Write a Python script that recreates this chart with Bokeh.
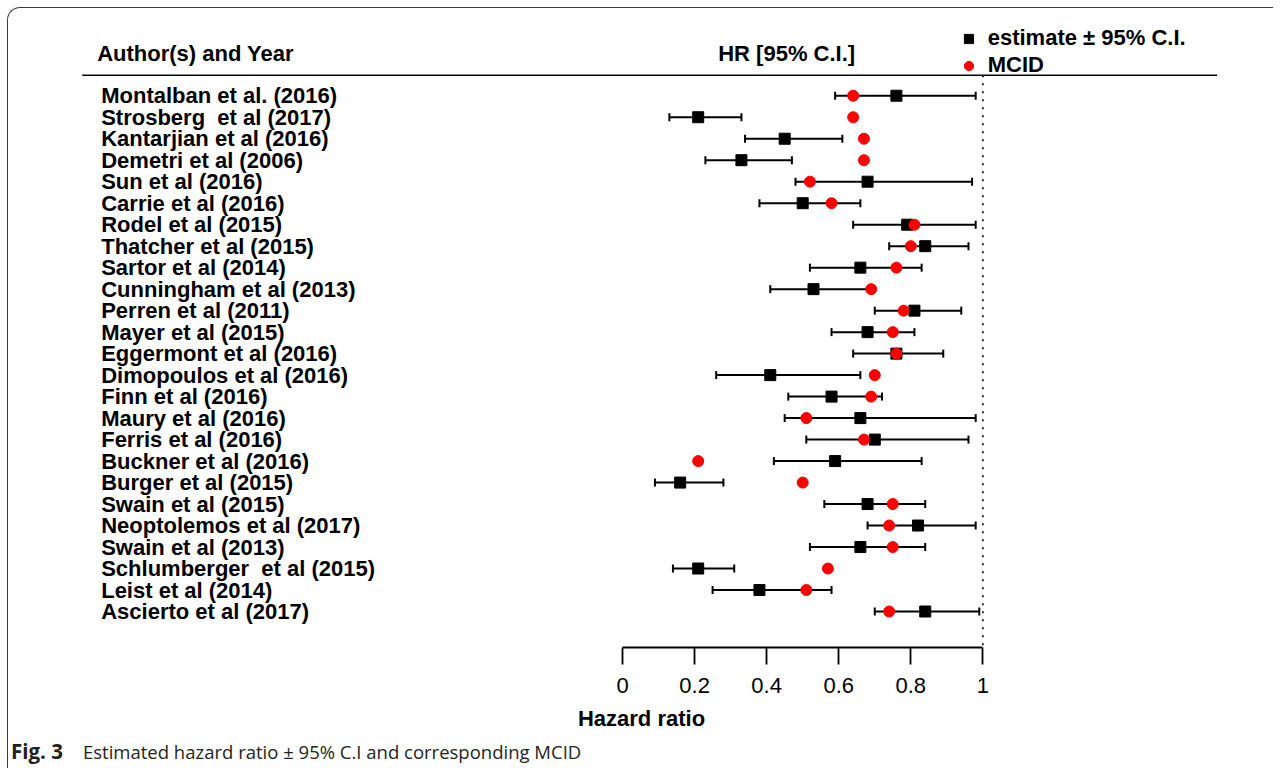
from bokeh.plotting import figure
from bokeh.layouts import column
from bokeh.models import (Range1d, ColumnDataSource, Whisker, TeeHead, FixedTicker,
                          Legend, LegendItem, Div)
from bokeh.core.properties import value
from bokeh.embed import file_html
from bokeh.resources import INLINE

# ---------------- data ----------------
authors = [
    "Montalban et al. (2016)", "Strosberg\u00a0 et al (2017)", "Kantarjian et al (2016)",
    "Demetri et al (2006)", "Sun et al (2016)", "Carrie et al (2016)",
    "Rodel et al (2015)", "Thatcher et al (2015)", "Sartor et al (2014)",
    "Cunningham et al (2013)", "Perren et al (2011)", "Mayer et al (2015)",
    "Eggermont et al (2016)", "Dimopoulos et al (2016)", "Finn et al (2016)",
    "Maury et al (2016)", "Ferris et al (2016)", "Buckner et al (2016)",
    "Burger et al (2015)", "Swain et al (2015)", "Neoptolemos et al (2017)",
    "Swain et al (2013)", "Schlumberger\u00a0 et al (2015)", "Leist et al (2014)",
    "Ascierto et al (2017)",
]
hr = [0.76, 0.21, 0.45, 0.33, 0.68, 0.50, 0.79, 0.84, 0.66, 0.53, 0.81, 0.68, 0.76,
      0.41, 0.58, 0.66, 0.70, 0.59, 0.16, 0.68, 0.82, 0.66, 0.21, 0.38, 0.84]
ci_low = [0.59, 0.13, 0.34, 0.23, 0.48, 0.38, 0.64, 0.74, 0.52, 0.41, 0.70, 0.58, 0.64,
          0.26, 0.46, 0.45, 0.51, 0.42, 0.09, 0.56, 0.68, 0.52, 0.14, 0.25, 0.70]
ci_high = [0.98, 0.33, 0.61, 0.47, 0.97, 0.66, 0.98, 0.96, 0.83, 0.69, 0.94, 0.81, 0.89,
           0.66, 0.72, 0.98, 0.96, 0.83, 0.28, 0.84, 0.98, 0.84, 0.31, 0.58, 0.99]
mcid = [0.64, 0.64, 0.67, 0.67, 0.52, 0.58, 0.81, 0.80, 0.76, 0.69, 0.78, 0.75, 0.76,
        0.70, 0.69, 0.51, 0.67, 0.21, 0.50, 0.75, 0.74, 0.75, 0.57, 0.51, 0.74]
rows = list(range(1, len(authors) + 1))
null_hr = 1.0
tick_values = [0, 0.2, 0.4, 0.6, 0.8, 1]
tick_labels = ["0", "0.2", "0.4", "0.6", "0.8", "1"]

# ---------------- layout helpers (page pixel -> data) ----------------
ORIGIN = 8.3            # page px of canvas origin (margin + border)
X0_PX, X1_PX = 622.3, 982.7
ROW1_PX, ROW_STEP = 95.5, 21.48
W, H = 1266, 727
FRAME_BOTTOM_PX = 647.0
BORDER = "1.3px solid #3c3c3c"


def px_x(px):
    return (px - X0_PX) / (X1_PX - X0_PX)


def px_y(py):
    return 1 + (py - ROW1_PX) / ROW_STEP


frame_h = FRAME_BOTTOM_PX - ORIGIN
FONT = "Liberation Sans"

p = figure(width=W, height=H, output_backend="svg", toolbar_location=None,
           x_range=Range1d(px_x(ORIGIN), px_x(ORIGIN + W)),
           y_range=Range1d(px_y(FRAME_BOTTOM_PX), px_y(ORIGIN)),
           min_border_left=0, min_border_right=0, min_border_top=0,
           min_border_bottom=round(H - frame_h), y_axis_location=None,
           outline_line_color=None, margin=(7, 0, 0, 7))
p.border_fill_alpha = 0
p.background_fill_alpha = 0
p.xgrid.visible = False
p.ygrid.visible = False
p.styles = {"border-top": BORDER, "border-left": BORDER,
            "border-top-left-radius": "13px"}

src = ColumnDataSource(dict(y=rows, hr=hr, lo=ci_low, hi=ci_high, mcid=mcid,
                            author=authors))

# header rule and null line
header_rule_y = px_y(75)
p.segment(x0=[px_x(82)], y0=[header_rule_y], x1=[px_x(1217)], y1=[header_rule_y],
          line_color="black", line_width=1.6)
p.segment(x0=[null_hr], y0=[header_rule_y], x1=[null_hr], y1=[px_y(FRAME_BOTTOM_PX)],
          line_color="black", line_width=1.6, line_dash="2 6")

# confidence intervals
wh = Whisker(source=src, base="y", lower="lo", upper="hi", dimension="width",
             line_color="black", line_width=2, level="underlay",
             lower_head=TeeHead(size=8, line_width=2, line_color="black"),
             upper_head=TeeHead(size=8, line_width=2, line_color="black"))
p.add_layout(wh)

sq = p.scatter("hr", "y", source=src, marker="square", size=11, color="black")
dot = p.scatter("mcid", "y", source=src, marker="circle", size=11, color="red")

# study labels
p.text(x=px_x(101), y="y", text="author", source=src, text_font=value(FONT),
       text_font_style="bold", text_font_size="22px", text_baseline="middle",
       text_align="left", text_color="black")

# column headers
p.text(x=[px_x(97), px_x(718)], y=[px_y(53), px_y(53)],
       text=["Author(s) and Year", "HR [95% C.I.]"], text_font=value(FONT),
       text_font_style="bold", text_font_size="22px", text_baseline="middle",
       text_align="left", text_color="black")

# legend
leg = Legend(items=[LegendItem(label="estimate \u00b1 95% C.I.", renderers=[sq]),
                    LegendItem(label="MCID", renderers=[dot])],
             location=(957 - ORIGIN, FRAME_BOTTOM_PX - 25 - 53),
             glyph_width=23, glyph_height=23, label_height=23, label_standoff=8,
             spacing=1, padding=0, margin=0, border_line_color=None,
             background_fill_alpha=0, label_text_font=FONT,
             label_text_font_style="bold", label_text_font_size="22px",
             label_text_color="black", label_text_baseline="middle")
p.add_layout(leg)

# x axis
ax = p.xaxis[0]
ax.bounds = (0, 1)
ax.ticker = FixedTicker(ticks=tick_values)
ax.major_label_overrides = {v: t for v, t in zip(tick_values, tick_labels)}
ax.minor_tick_line_color = None
ax.major_tick_in = 0
ax.major_tick_out = 17
ax.major_tick_line_width = 1.8
ax.axis_line_width = 1.8
ax.axis_line_color = "black"
ax.major_tick_line_color = "black"
ax.major_label_text_font = FONT
ax.major_label_text_font_size = "22px"
ax.major_label_text_color = "black"
ax.major_label_standoff = 13
ax.axis_label = "Hazard ratio"
ax.axis_label_text_font = FONT
ax.axis_label_text_font_style = "bold"
ax.axis_label_text_font_size = "22px"
ax.axis_label_text_color = "black"
ax.axis_label_standoff = 10

# caption
caption = Div(
    text="<span style='font-weight:700;font-size:20.5px;display:inline-block;"
         "width:72px'>Fig.\u00a03</span>"
         "Estimated hazard ratio \u00b1 95% C.I and corresponding MCID",
    width=W, height=34, margin=(0, 0, 0, 7),
    styles={"font-family": "'Open Sans', sans-serif", "font-size": "18.5px",
            "color": "#231f20", "padding-left": "3px", "padding-top": "6px",
            "line-height": "22px", "white-space": "nowrap",
            "border-left": BORDER})

page = column(p, caption, spacing=0)

open("out.html", "w").write(file_html(page, INLINE))
